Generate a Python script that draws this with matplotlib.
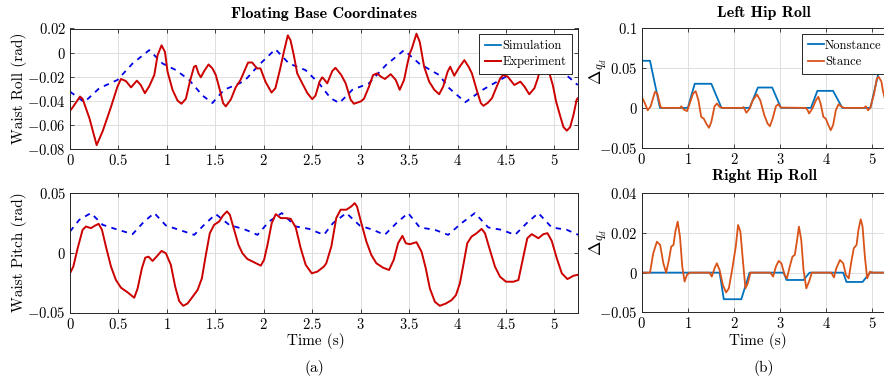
# plot.py
# Floating base coordinates (left) and hip roll corrections (right), MATLAB-style figure.

import numpy as np
import matplotlib
matplotlib.use('Agg')
import matplotlib.pyplot as plt
from matplotlib.lines import Line2D

plt.rcParams['font.family'] = 'serif'
plt.rcParams['font.serif'] = ['cmr10']
plt.rcParams['mathtext.fontset'] = 'cm'
plt.rcParams['axes.unicode_minus'] = False

# ---- Waist roll ----
roll_exp_t = [0, 0.027, 0.103, 0.13, 0.2, 0.275, 0.337, 0.42, 0.49, 0.526, 0.577, 0.63, 0.69, 0.73,
              0.773, 0.818, 0.87, 0.904, 0.945, 0.98, 1.007, 1.058, 1.11, 1.15, 1.196, 1.237, 1.28,
              1.3, 1.326, 1.35, 1.385, 1.43, 1.47, 1.505, 1.546, 1.58, 1.608, 1.66, 1.71, 1.76,
              1.838, 1.88, 1.93, 1.966, 2.017, 2.08, 2.12, 2.17, 2.207, 2.248, 2.276, 2.31, 2.345,
              2.397, 2.45, 2.5, 2.534, 2.576, 2.603, 2.62, 2.655, 2.707, 2.74, 2.8, 2.845, 2.897,
              2.93, 3.0, 3.034, 3.086, 3.128, 3.17, 3.207, 3.25, 3.31, 3.362, 3.403, 3.448, 3.483,
              3.507, 3.528, 3.576, 3.61, 3.655, 3.707, 3.76, 3.81, 3.852, 3.897, 3.924, 3.966, 4.01,
              4.07, 4.114, 4.148, 4.197, 4.24, 4.266, 4.31, 4.355, 4.397, 4.44, 4.47, 4.517, 4.586,
              4.648, 4.69, 4.74, 4.793, 4.828, 4.862, 4.905, 4.948, 4.983, 5.017, 5.06, 5.093, 5.128,
              5.162, 5.197, 5.23, 5.26]
roll_exp = [-0.0484, -0.0457, -0.0366, -0.0385, -0.0545, -0.077, -0.0655, -0.046, -0.0283, -0.022,
            -0.0237, -0.029, -0.0234, -0.027, -0.0338, -0.028, -0.0187, -0.0022, 0.006, 0.0005,
            -0.016, -0.031, -0.040, -0.0426, -0.0385, -0.0242, -0.0118, -0.011, -0.0173, -0.0206,
            -0.0154, -0.0099, -0.0132, -0.0187, -0.031, -0.042, -0.0448, -0.039, -0.029, -0.0228,
            -0.0083, -0.0083, -0.0132, -0.0132, -0.0242, -0.0333, -0.0297, -0.0132, 0.0005, 0.0143,
            0.0102, -0.0022, -0.0173, -0.0256, -0.0338, -0.0388, -0.0358, -0.0242, -0.0206, -0.022,
            -0.0256, -0.0154, -0.0127, -0.0187, -0.0256, -0.0393, -0.0426, -0.0407, -0.0385,
            -0.0283, -0.0187, -0.0173, -0.020, -0.022, -0.018, -0.0228, -0.031, -0.0228, -0.0091,
            -0.0008, 0.0033, 0.0157, 0.0088, -0.0118, -0.0242, -0.031, -0.0347, -0.0283, -0.016,
            -0.0118, -0.0193, -0.0132, -0.0063, -0.0118, -0.0173, -0.031, -0.042, -0.0443, -0.042,
            -0.038, -0.0297, -0.0215, -0.0187, -0.020, -0.027, -0.0242, -0.0283, -0.0347, -0.0297,
            -0.0215, -0.0105, 0.006, -0.0173, -0.027, -0.0407, -0.053, -0.062, -0.065, -0.062,
            -0.0517, -0.039, -0.0366]
roll_sim_t = [0, 0.148, 0.302, 0.49, 0.646, 0.818, 0.955, 1.093, 1.23, 1.368, 1.47, 1.59, 1.75,
              1.81, 1.948, 2.12, 2.26, 2.43, 2.57, 2.69, 2.78, 2.914, 3.086, 3.26, 3.448, 3.603,
              3.81, 3.914, 4.08, 4.259, 4.5, 4.77, 4.95, 5.12, 5.24]
roll_sim = [-0.0325, -0.0413, -0.0297, -0.0228, -0.0091, 0.002, -0.0091, -0.0146, -0.0228,
            -0.0358, -0.042, -0.031, -0.0256, -0.0228, -0.0105, 0.0028, -0.0091, -0.0146, -0.0256,
            -0.038, -0.042, -0.031, -0.0256, -0.0105, 0.002, -0.0091, -0.0187, -0.0297, -0.0413,
            -0.031, -0.020, 0.002, -0.008, -0.0185, -0.027]

# ---- Waist pitch ----
pitch_exp_t = [0, 0.034, 0.079, 0.13, 0.165, 0.216, 0.26, 0.296, 0.33, 0.371, 0.423, 0.474, 0.526,
               0.595, 0.663, 0.698, 0.742, 0.777, 0.811, 0.852, 0.893, 0.945, 0.99, 1.041, 1.086,
               1.127, 1.168, 1.213, 1.265, 1.316, 1.361, 1.402, 1.443, 1.488, 1.54, 1.58, 1.62,
               1.65, 1.694, 1.739, 1.78, 1.83, 1.9, 1.969, 2.003, 2.038, 2.082, 2.124, 2.175, 2.227,
               2.278, 2.33, 2.381, 2.433, 2.495, 2.553, 2.62, 2.645, 2.697, 2.748, 2.793, 2.852,
               2.903, 2.938, 2.962, 3.007, 3.059, 3.11, 3.162, 3.231, 3.293, 3.341, 3.386, 3.431,
               3.466, 3.507, 3.576, 3.628, 3.672, 3.714, 3.766, 3.817, 3.879, 3.938, 3.983, 4.024,
               4.066, 4.1, 4.145, 4.197, 4.248, 4.283, 4.334, 4.386, 4.438, 4.5, 4.576, 4.628,
               4.679, 4.72, 4.766, 4.834, 4.886, 4.928, 4.972, 5.024, 5.076, 5.134, 5.197, 5.259]
pitch_exp = [-0.0173, -0.0117, 0.0036, 0.019, 0.0218, 0.0204, 0.0226, 0.024, 0.019, 0.005, -0.0117,
             -0.0229, -0.0293, -0.0332, -0.0377, -0.0299, -0.0131, -0.0042, -0.0034, -0.007,
             -0.0034, 0.0014, -0.0006, -0.0103, -0.0285, -0.0405, -0.0444, -0.0425, -0.0369,
             -0.0313, -0.0215, -0.002, 0.0162, 0.0232, 0.026, 0.031, 0.0344, 0.0316, 0.019, 0.0064,
             -0.0006, -0.0053, -0.0081, -0.0109, -0.0061, 0.0064, 0.0246, 0.0321, 0.0288, 0.0288,
             0.0282, 0.021, 0.0036, -0.0103, -0.0173, -0.0159, -0.0117, -0.0089, 0.005, 0.0288,
             0.0358, 0.0358, 0.0385, 0.0413, 0.0385, 0.0246, 0.0092, -0.002, -0.0089, -0.0126,
             -0.0145, -0.0061, 0.0078, 0.014, 0.0078, 0.007, 0.0087, 0.0008, -0.0131, -0.0299,
             -0.0411, -0.0444, -0.0425, -0.0397, -0.0355, -0.0257, -0.0075, 0.0078, 0.0134, 0.0162,
             0.0198, 0.0162, 0.0022, -0.0117, -0.0201, -0.0243, -0.0243, -0.0229, -0.0034, 0.012,
             0.0154, 0.012, 0.0154, 0.0162, 0.0098, -0.0047, -0.0173, -0.0221, -0.0193, -0.0182]
pitch_sim_t = [0, 0.096, 0.216, 0.337, 0.474, 0.646, 0.766, 0.87, 0.99, 1.127, 1.282, 1.402, 1.505,
               1.643, 1.814, 1.935, 2.055, 2.186, 2.33, 2.467, 2.62, 2.714, 2.852, 2.99, 3.128,
               3.248, 3.369, 3.49, 3.61, 3.766, 3.903, 4.041, 4.179, 4.317, 4.455, 4.593, 4.714,
               4.834, 4.972, 5.128, 5.248]
pitch_sim = [0.0176, 0.0274, 0.033, 0.0232, 0.0196, 0.0154, 0.026, 0.033, 0.0226, 0.019, 0.0148,
             0.0246, 0.0321, 0.0232, 0.019, 0.0148, 0.026, 0.033, 0.0218, 0.0198, 0.0148, 0.0246,
             0.033, 0.0226, 0.019, 0.0148, 0.0246, 0.033, 0.021, 0.019, 0.0148, 0.0246, 0.033,
             0.021, 0.019, 0.0148, 0.0246, 0.033, 0.021, 0.019, 0.0148]

# ---- Left hip roll ----
lhip_non_t = [0, 0.18, 0.396, 1.0, 1.15, 1.51, 1.73, 2.34, 2.52, 2.83, 3.02, 3.67, 3.81, 4.15,
              4.35, 4.96, 5.2, 5.5]
lhip_non = [0.0592, 0.0592, 0, 0, 0.0303, 0.0303, 0, 0, 0.0256, 0.0256, 0, 0, 0.0214, 0.0214, 0,
            0, 0.06, 0.06]
lhip_st_t = [0, 0.072, 0.13, 0.194, 0.288, 0.338, 0.41, 0.45, 0.83, 0.86, 0.91, 0.985, 1.04, 1.115,
             1.17, 1.23, 1.29, 1.345, 1.4, 1.46, 1.51, 1.58, 1.63, 1.69, 1.75, 2.18, 2.21, 2.27,
             2.34, 2.41, 2.5, 2.57, 2.66, 2.73, 2.78, 2.84, 2.91, 2.96, 3.02, 3.56, 3.6, 3.63, 3.7,
             3.78, 3.83, 3.88, 3.94, 3.99, 4.05, 4.1, 4.15, 4.21, 4.27, 4.34, 4.39, 4.82, 4.86,
             4.91, 4.96, 5.04, 5.1, 5.14, 5.2, 5.23, 5.3]
lhip_st = [0.0139, 0.0055, -0.003, 0.002, 0.0202, 0.018, 0.001, 0, 0, 0.002, -0.002, -0.004,
           0.0055, 0.018, 0.021, 0.0097, -0.0113, -0.0134, -0.0197, -0.025, -0.0176, 0.002, 0.0055,
           0.0013, 0, 0, 0.001, -0.006, -0.001, 0.0097, 0.0168, 0.0097, -0.0092, -0.0197, -0.023,
           -0.0134, 0.002, 0.0046, 0.0004, 0, -0.003, -0.007, -0.001, 0.0097, 0.0139, 0.0055,
           -0.0113, -0.0134, -0.0218, -0.028, -0.0218, -0.003, 0.0046, 0.0013, 0, 0, 0.002,
           -0.003, 0.0004, 0.018, 0.037, 0.039, 0.0328, 0.022, 0.005]

# ---- Right hip roll ----
rhip_non_t = [0, 1.69, 1.78, 2.16, 2.34, 3.08, 3.14, 3.51, 3.64, 4.37, 4.44, 4.79, 4.95, 5.5]
rhip_non = [0, 0, -0.0134, -0.0134, 0, 0, -0.0037, -0.0037, 0, 0, -0.0047, -0.0047, 0, 0]
rhip_st_t = [0, 0.18, 0.25, 0.33, 0.4, 0.47, 0.53, 0.59, 0.64, 0.69, 0.73, 0.78, 0.83, 0.88, 0.93,
             0.98, 1.04, 1.47, 1.52, 1.58, 1.63, 1.69, 1.76, 1.83, 1.89, 1.96, 2.04, 2.09, 2.14,
             2.2, 2.25, 2.3, 2.36, 2.79, 2.85, 2.91, 2.97, 3.03, 3.1, 3.15, 3.21, 3.27, 3.32, 3.37,
             3.41, 3.46, 3.51, 3.57, 3.63, 3.69, 4.11, 4.17, 4.22, 4.3, 4.37, 4.43, 4.49, 4.54,
             4.6, 4.66, 4.7, 4.75, 4.79, 4.84, 4.89, 4.95, 5.0, 5.5]
rhip_st = [0, 0, 0.0097, 0.0156, 0.014, 0.0047, 0, 0.0064, 0.0131, 0.014, 0.0207, 0.0257, 0.0182,
           0.003, -0.0045, -0.0012, 0, 0, -0.002, 0.0022, 0.0047, 0.0013, -0.0062, -0.010, -0.0079,
           0.0013, 0.0131, 0.024, 0.0207, 0.0047, -0.0079, -0.0054, 0, 0, -0.002, 0.003, 0.0059,
           0.0047, -0.0012, -0.0029, 0.003, 0.0081, 0.0089, 0.0165, 0.0232, 0.0165, 0.0013,
           -0.0079, -0.0045, 0, 0, -0.0024, 0.0022, 0.0064, 0.0047, -0.0012, -0.0029, 0.0047,
           0.0123, 0.014, 0.0215, 0.0269, 0.0232, 0.0081, -0.0029, 0.0005, 0, 0]

left_xticks = [0, 0.5, 1, 1.5, 2, 2.5, 3, 3.5, 4, 4.5, 5]
right_xticks = [0, 1, 2, 3, 4, 5]

BLUE_M = '#0072BD'
ORANGE_M = '#D95319'
RED = '#CC0000'
SIM = '#0000E6'

W, H = 884, 377


def mtxt(v):
    s = ('%g' % v)
    return '$' + s + '$'


def style_axes(ax, xticks, yticks, ylabels=None):
    ax.set_xticks(xticks)
    ax.set_xticklabels([mtxt(v) for v in xticks])
    ax.set_yticks(yticks)
    ax.set_yticklabels(ylabels if ylabels else [mtxt(v) for v in yticks])
    ax.grid(True, color='#DEDEDE', linewidth=0.7)
    ax.set_axisbelow(True)
    ax.tick_params(direction='in', top=True, right=True, length=3, width=0.6,
                   color='#262626', labelsize=10.5, pad=3)
    for sp in ax.spines.values():
        sp.set_color('#262626')
        sp.set_linewidth(0.7)


def add_legend(ax, *args):
    leg = ax.legend(*args, loc='upper right', fontsize=9, fancybox=False, framealpha=1,
                    edgecolor='#262626', handlelength=1.3, handletextpad=0.1, borderpad=0.45,
                    labelspacing=0.35, borderaxespad=0.45)
    leg.get_frame().set_linewidth(0.7)
    return leg


def rect(x0, y0, x1, y1):
    # pixel box (top-left origin) -> figure fraction
    return [x0 / W, 1 - y1 / H, (x1 - x0) / W, (y1 - y0) / H]


def ftext(x, y, s, **kw):
    fig.text(x / W, 1 - y / H, s, ha='center', va='center', **kw)


fig = plt.figure(figsize=(W / 100, H / 100), dpi=100)

ax_roll = fig.add_axes(rect(70, 28.5, 577.7, 148.7))
ax_pitch = fig.add_axes(rect(70, 192.7, 577.7, 312.5))
# right column runs past the page edge in the original export
ax_lhip = fig.add_axes(rect(641.7, 28.3, 893, 147.7))
ax_rhip = fig.add_axes(rect(641.7, 193.3, 893, 312.3))

# Waist roll
ax_roll.plot(roll_sim_t, roll_sim, color=SIM, lw=1.3, ls=(0, (3, 3)))
ax_roll.plot(roll_exp_t, roll_exp, color=RED, lw=1.4)
ax_roll.set_xlim(0, 5.24)
ax_roll.set_ylim(-0.08, 0.02)
style_axes(ax_roll, left_xticks, [-0.08, -0.06, -0.04, -0.02, 0, 0.02])
# legend swatch for simulation is the solid default blue, as in the original
handles = [Line2D([], [], color=BLUE_M, lw=1.3), Line2D([], [], color=RED, lw=1.4)]
add_legend(ax_roll, handles, ['Simulation', 'Experiment'])

# Waist pitch
ax_pitch.plot(pitch_sim_t, pitch_sim, color=SIM, lw=1.3, ls=(0, (3, 3)))
ax_pitch.plot(pitch_exp_t, pitch_exp, color=RED, lw=1.4)
ax_pitch.set_xlim(0, 5.24)
ax_pitch.set_ylim(-0.05, 0.05)
style_axes(ax_pitch, left_xticks, [-0.05, 0, 0.05])

# Left hip roll
ax_lhip.plot(lhip_non_t, lhip_non, color=BLUE_M, lw=1.3, label='Nonstance')
ax_lhip.plot(lhip_st_t, lhip_st, color=ORANGE_M, lw=1.3, label='Stance')
ax_lhip.set_xlim(0, 5.45)
ax_lhip.set_ylim(-0.05, 0.1)
style_axes(ax_lhip, right_xticks, [-0.05, 0, 0.05, 0.1])
add_legend(ax_lhip)

# Right hip roll (bottom tick label kept as in the original figure)
ax_rhip.plot(rhip_non_t, rhip_non, color=BLUE_M, lw=1.3)
ax_rhip.plot(rhip_st_t, rhip_st, color=ORANGE_M, lw=1.3)
ax_rhip.set_xlim(0, 5.45)
ax_rhip.set_ylim(-0.02, 0.04)
style_axes(ax_rhip, right_xticks, [-0.02, 0, 0.02, 0.04],
           ['$-0.05$', '$0$', '$0.02$', '$0.04$'])

# titles and labels
ftext(324, 14, 'Floating Base Coordinates', fontsize=11.5, family='cmb10')
ftext(764, 13, 'Left Hip Roll', fontsize=11.5, family='cmb10')
ftext(764, 176, 'Right Hip Roll', fontsize=11.5, family='cmb10')
ftext(19.5, 88.6, 'Waist Roll (rad)', fontsize=11, rotation=90)
ftext(19.5, 252.6, 'Waist Pitch (rad)', fontsize=11, rotation=90)
ftext(599, 71, r'$\Delta_{q_d}$', fontsize=12.5, rotation=90)
ftext(599, 242, r'$\Delta_{q_d}$', fontsize=12.5, rotation=90)
ftext(316, 341, 'Time (s)', fontsize=11)
ftext(758, 341, 'Time (s)', fontsize=11)
ftext(314, 368, '(a)', fontsize=11)
ftext(764, 368, '(b)', fontsize=11)

fig.savefig('out.png', dpi=100)
